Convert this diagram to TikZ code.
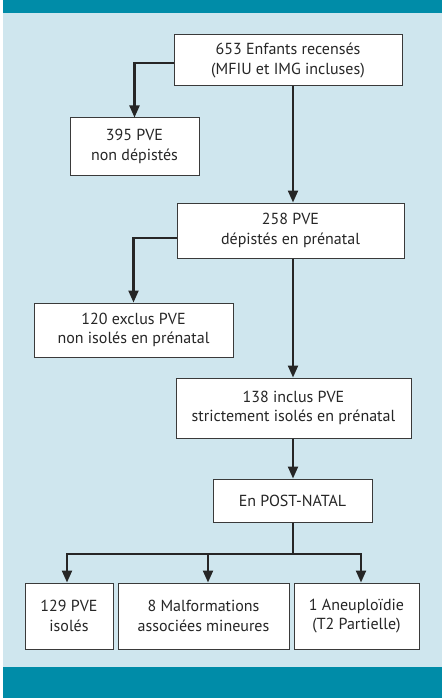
\documentclass[tikz,border=0pt]{standalone}
\usepackage{fontspec}
\setmainfont{PT Sans}
\usetikzlibrary{arrows.meta}
\definecolor{teal1}{HTML}{008CA8}
\definecolor{lightbg}{HTML}{CFE6EE}
\definecolor{boxline}{HTML}{3A3A3A}
\definecolor{txt}{HTML}{262626}
\tikzset{
  box/.style={draw=boxline, line width=1pt, fill=white, align=center, inner sep=0pt,
    text=txt, font=\fontsize{16}{19.5}\selectfont},
  arr/.style={line width=2.2pt, draw=black!85, -{Triangle[width=10pt,length=12pt]}},
  ln/.style={line width=2.2pt, draw=black!85},
}
\begin{document}
\begin{tikzpicture}[x=1pt,y=-1pt]
\fill[white] (0,0) rectangle (446,698);
\useasboundingbox (0,0) rectangle (446,698);
\fill[lightbg] (3,13) rectangle (442,667);
\fill[teal1] (3,0) rectangle (442,13);
\fill[teal1] (3,667) rectangle (442,698);

\node[box, minimum width=228, minimum height=51] (b1) at (288,60.5) {653 Enfants recensés\\(MFIU et IMG incluses)};
\node[box, minimum width=129, minimum height=57] (b2) at (134.5,146.5) {395 PVE\\non dépistés};
\node[box, minimum width=227, minimum height=55] (b3) at (290.5,230.5) {258 PVE\\dépistés en prénatal};
\node[box, minimum width=199, minimum height=54] (b4) at (133.5,330) {120 exclus PVE\\non isolés en prénatal};
\node[box, minimum width=235, minimum height=60] (b5) at (293.5,408) {138 inclus PVE\\strictement isolés en prénatal};
\node[box, minimum width=159, minimum height=43] (b6) at (292.5,500.5) {En POST-NATAL};
\node[box, minimum width=88, minimum height=66] (b7) at (69,616) {129 PVE\\isolés};
\node[box, minimum width=171, minimum height=66] (b8) at (203.5,616) {8 Malformations\\associées mineures};
\node[box, minimum width=125, minimum height=66] (b9) at (356.5,616) {1 Aneuploïdie\\(T2 Partielle)};

\coordinate (split) at (293,554);

\draw[arr] ([yshift=-2.5pt]b1.west) -| (b2.north);
\draw[arr] (b1.south -| split) -- (b3.north -| split);
\draw[arr] ([yshift=-7.5pt]b3.west) -| (b4.north);
\draw[arr] (b3.south -| split) -- (b5.north -| split);
\draw[arr] (b5.south -| split) -- (b6.north -| split);
\draw[ln] (b6.south -| split) -- (split);
\draw[arr] (split) -| ([xshift=-2pt]b7.north);
\draw[arr] (split) -| ([xshift=4.5pt]b8.north);
\draw[arr] (split) -| ([xshift=4.5pt]b9.north);
\end{tikzpicture}
\end{document}
